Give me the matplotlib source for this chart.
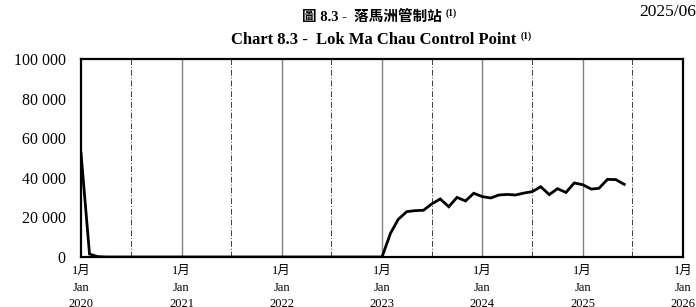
"""Chart 8.3 - Lok Ma Chau Control Point, monthly passenger trips."""

import matplotlib
matplotlib.use("Agg")
import matplotlib.pyplot as plt
import numpy as np
import pandas as pd

SERIF = ["Liberation Serif", "Noto Sans CJK TC"]

# monthly values, Jan 2020 - Jun 2025
values_2020 = [52500, 1500, 200] + [0] * 9
values_2021 = [0] * 12
values_2022 = [0] * 12
values_2023 = [0, 12000, 19000, 22900, 23400, 23600, 26800, 29300, 25400, 30100, 28300, 32200]
values_2024 = [30500, 29800, 31300, 31600, 31300, 32300, 33000, 35500, 31500, 34500, 32600, 37400]
values_2025 = [36500, 34300, 34700, 39200, 39100, 36700]

yticks = [0, 20000, 40000, 60000, 80000, 100000]
years = [2020, 2021, 2022, 2023, 2024, 2025, 2026]

values = values_2020 + values_2021 + values_2022 + values_2023 + values_2024 + values_2025
months = pd.date_range("2020-01-01", periods=len(values), freq="MS")

plt.rcParams["font.family"] = SERIF

fig = plt.figure(figsize=(6.96, 3.07), dpi=100)
ax = fig.add_axes([81 / 696, 1 - 257 / 307, 602 / 696, 198 / 307])

jan_lines = pd.to_datetime([f"{y}-01-01" for y in years])
jul_lines = pd.to_datetime([f"{y}-07-01" for y in years[:-1]])
for d in jan_lines[1:-1]:
    ax.axvline(d, color="#808080", lw=1.0, zorder=1)
for d in jul_lines:
    ax.axvline(d, color="#404040", lw=0.7, ls=(0, (6, 2, 1, 2)), zorder=1)

ax.plot(months, values, color="black", lw=2.0, solid_joinstyle="miter", zorder=3)

ax.set_xlim(jan_lines[0], jan_lines[-1])
ax.set_ylim(0, 100000)
ax.set_yticks(yticks)
ax.set_yticklabels([f"{v:,}".replace(",", " ") for v in yticks], fontsize=11.5)
ax.set_xticks(jan_lines)
ax.set_xticklabels([f"1月\nJan\n{y}" for y in years], fontsize=9, linespacing=1.5)
ax.tick_params(axis="y", length=0, pad=11)
ax.tick_params(axis="x", length=0, pad=6)
for s in ax.spines.values():
    s.set_linewidth(1.6)


def title_with_note(x, y, text, size):
    """Centre a bold title on x and put a small (1) note just after it."""
    t = fig.text(x, y, text, ha="center", va="center", fontsize=size, fontweight="bold")
    fig.canvas.draw()
    bb = t.get_window_extent()
    fig.text((bb.x1 + 4) / fig.bbox.width, y + 0.012, "(1)", ha="left", va="center",
             fontsize=7, fontweight="bold")


title_with_note(0.534, 0.945, "圖 8.3 -  落馬洲管制站", 10.5)
title_with_note(0.537, 0.87, "Chart 8.3 -  Lok Ma Chau Control Point", 12)
fig.text(1.0, 0.962, "2025/06", ha="right", va="center", fontsize=12.5)

fig.savefig("out.png", dpi=100)
